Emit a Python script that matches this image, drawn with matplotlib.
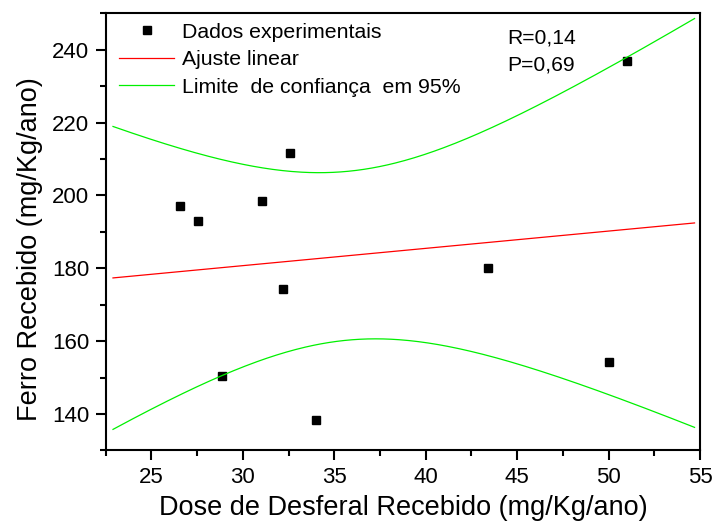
import numpy as np
import matplotlib
matplotlib.use("Agg")
import matplotlib.pyplot as plt

plt.rcParams['font.family'] = ['Liberation Sans', 'DejaVu Sans']

# Experimental data: Desferal dose vs. iron received (mg/Kg/ano)
dose = [26.57, 27.57, 28.87, 31.07, 32.17, 32.57, 33.99, 43.39, 50.00, 51.00]
ferro = [197.0, 193.1, 150.4, 198.4, 174.3, 211.7, 138.3, 180.0, 154.3, 237.0]

x_ticks = [25, 30, 35, 40, 45, 50, 55]
y_ticks = [140, 160, 180, 200, 220, 240]

# Student t for 95 % two-sided, n - 2 = 8 degrees of freedom
t_95 = 2.306

x = np.asarray(dose)
y = np.asarray(ferro)
n = len(x)
xm = x.mean()
sxx = np.sum((x - xm) ** 2)
slope = np.sum((x - xm) * (y - y.mean())) / sxx
intercept = y.mean() - slope * xm
resid = y - (intercept + slope * x)
s = np.sqrt(np.sum(resid ** 2) / (n - 2))

xf = np.linspace(22.9, 54.7, 300)
yf = intercept + slope * xf
half = t_95 * s * np.sqrt(1.0 / n + (xf - xm) ** 2 / sxx)

fig = plt.figure(figsize=(7.16, 5.28), dpi=100)
ax = fig.add_axes([0.1476, 0.1468, 0.8301, 0.828])

ax.plot(dose, ferro, linestyle='none', marker='s', markersize=6.0,
        color='black', label='Dados experimentais')
ax.plot(xf, yf, color='#ff0000', lw=0.9, label='Ajuste linear')
ax.plot(xf, yf + half, color='#00f000', lw=0.9,
        label='Limite  de confiança  em 95%')
ax.plot(xf, yf - half, color='#00f000', lw=0.9)

ax.set_xlim(22.5, 55)
ax.set_ylim(130, 250)
ax.set_xticks(x_ticks)
ax.set_yticks(y_ticks)
ax.set_xticks(np.arange(22.5, 55.1, 2.5), minor=True)
ax.set_yticks(np.arange(130, 251, 10), minor=True)

for sp in ax.spines.values():
    sp.set_linewidth(1.5)
ax.tick_params(axis='both', which='major', direction='out', length=7,
               width=1.5, labelsize=16)
ax.tick_params(axis='both', which='minor', direction='out', length=4,
               width=1.5)
ax.tick_params(axis='x', which='major', pad=5)
ax.tick_params(axis='y', which='major', pad=4.8)

ax.set_xlabel('Dose de Desferal Recebido (mg/Kg/ano)', fontsize=19.5, labelpad=5)
ax.set_ylabel('Ferro Recebido (mg/Kg/ano)', fontsize=19.5, labelpad=10.7)
ax.yaxis.set_label_coords(-0.105, 0.46)

ax.legend(loc='upper left', bbox_to_anchor=(0.0229, 0.978), frameon=False,
          fontsize=15.3, handlelength=2.59, handletextpad=0.35,
          labelspacing=0.4, borderaxespad=0.0, borderpad=0.0)

ax.text(0.675, 0.943, 'R=0,14', transform=ax.transAxes, fontsize=15.2,
        va='center', ha='left')
ax.text(0.675, 0.881, 'P=0,69', transform=ax.transAxes, fontsize=15.2,
        va='center', ha='left')

fig.savefig('out.png', dpi=100)
